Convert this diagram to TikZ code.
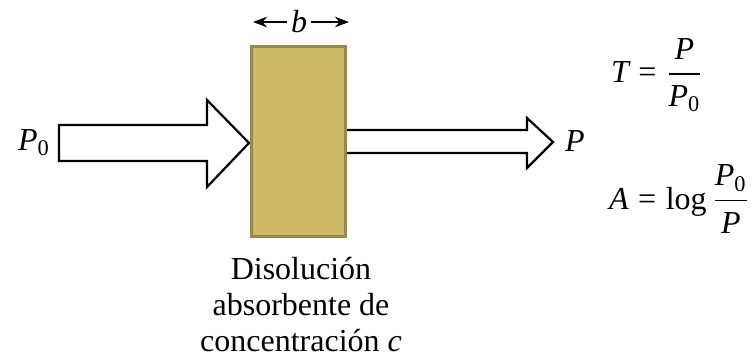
\documentclass[tikz,border=0pt]{standalone}
\usepackage{fontspec}
\setmainfont{Liberation Serif}
\usepackage{amsmath}
\usetikzlibrary{arrows.meta}
\definecolor{celltan}{RGB}{205,185,102}
\definecolor{celledge}{RGB}{152,136,76}
\newcommand{\ti}[1]{\textit{#1}}
\newcommand{\teq}{\mathrel{\textrm{=}}}
\newcommand{\tzero}{\textrm{0}}

\begin{document}
\begin{tikzpicture}[>=Stealth, x=0.5pt, y=-0.5pt, every node/.style={font=\fontsize{16}{18}\selectfont}]
                \useasboundingbox (0,0) rectangle (754,361);

                \coordinate (A1) at (59,125);
                \coordinate (A2) at (207,125);
                \coordinate (A3) at (207,100);
                \coordinate (A4) at (249,143);
                \coordinate (A5) at (207,187);
                \coordinate (A6) at (207,161);
                \coordinate (A7) at (59,161);

                \coordinate (B1) at (346,130);
                \coordinate (B2) at (527,130);
                \coordinate (B3) at (527,118);
                \coordinate (B4) at (553,142);
                \coordinate (B5) at (527,168);
                \coordinate (B6) at (527,153);
                \coordinate (B7) at (346,153);

                \draw[line width=1.1pt, fill=white] (A1) -- (A2) -- (A3) -- (A4) -- (A5) -- (A6) -- (A7) -- cycle;
                \draw[line width=1.1pt, line join=miter] (B1) -- (B2) -- (B3) -- (B4) -- (B5) -- (B6) -- (B7);

                \node[draw=celledge, fill=celltan, line width=1.5pt, minimum width=47pt, minimum height=95pt, inner sep=0pt] (cell) at (298.5,141.5) {};

                \node[inner sep=2pt] (b) at (299,22) {\ti{b}};
                \coordinate (bL) at (253,22);
                \coordinate (bR) at (349,22);
                \draw[->, line width=0.9pt] (b.west) -- (bL);
                \draw[->, line width=0.9pt] (b.east) -- (bR);

                \node[left] (Pin) at (57,143) {$\ti{P}_{\tzero}$};
                \node[right] (Pout) at (558,141) {\ti{P}};

                \node[anchor=west] (trans) at (604,75) {$\ti{T} \teq \dfrac{\ti{P}}{\ti{P}_{\tzero}}$};
                \node[anchor=west] (absor) at (602,199) {$\ti{A} \teq \textrm{log}\, \dfrac{\ti{P}_{\tzero}}{\ti{P}}$};

                \node[align=center, anchor=north] (sol) at (301,250) {Disolución\\absorbente de\\concentración \ti{c}};
            \end{tikzpicture}
\end{document}
